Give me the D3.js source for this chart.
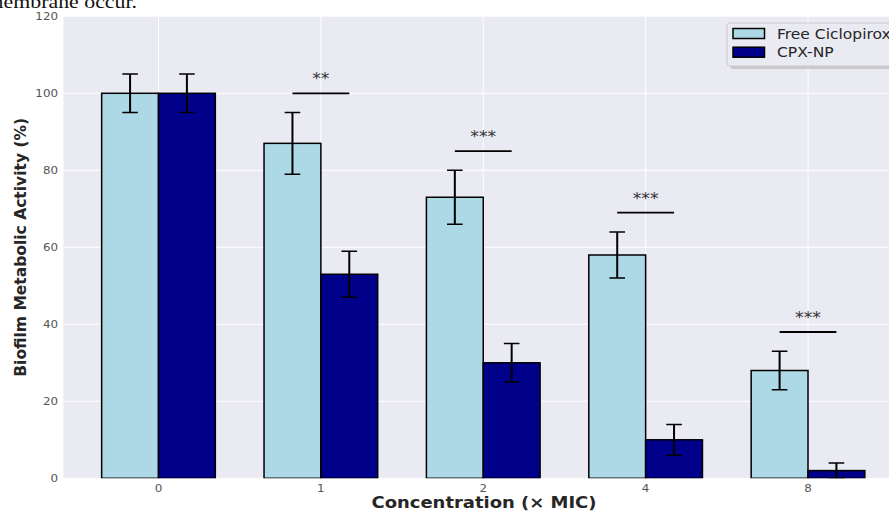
<!DOCTYPE html>
<html><head><meta charset="utf-8">
<script src="https://cdn.jsdelivr.net/npm/d3@7"></script>
<style>body{margin:0;background:#fff;overflow:hidden}svg{display:block}</style>
</head><body>
<svg id="c" width="889" height="511"></svg>
<script>
const categories = ["0","1","2","4","8"];
const freeVals = [100, 87, 73, 58, 28];
const freeErr  = [5, 8, 7, 6, 5];
const npVals   = [100, 53, 30, 10, 2];
const npErr    = [5, 6, 5, 4, 2];
const sigLabels = [null, "**", "***", "***", "***"];
const yTicks = [0, 20, 40, 60, 80, 100, 120];
const seriesNames = ["Free Ciclopirox", "CPX-NP"];
const colors = ["#ADD8E6", "#00008B"];

(function(){
const svg = d3.select("#c");
const pL = 63.5, pR = 903, pT = 16.3, pB = 478.3;
const x = d3.scaleLinear().domain([-0.585, 4.585]).range([pL, pR]);
const y = d3.scaleLinear().domain([0, 120]).range([pB, pT]);
const bw = 0.35;
const SX = 1.15;
function txt(parent, tx, ty, s, opts) {
  const t = parent.append("text")
    .attr("transform", `translate(${tx},${ty}) scale(${opts.sx || SX},1)`)
    .attr("text-anchor", opts.anchor || "start")
    .attr("font-family", opts.family || "DejaVu Sans")
    .attr("font-size", opts.size || 12)
    .attr("fill", opts.fill || "#262626").text(s);
  if (opts.weight) t.attr("font-weight", opts.weight);
  return t;
}

// stray text from the page above the figure
txt(svg, 137, 8, "membrane occur.", {anchor: "end", family: "Liberation Serif", size: 19, fill: "#111"});

svg.append("clipPath").attr("id","pc").append("rect")
  .attr("x", pL).attr("y", pT).attr("width", pR-pL).attr("height", pB-pT);

svg.append("rect").attr("x", pL).attr("y", pT).attr("width", pR-pL).attr("height", pB-pT)
  .attr("fill", "#EAEAF2");

const g = svg.append("g").attr("clip-path", "url(#pc)");
g.selectAll(".hg").data(yTicks).enter().append("line")
  .attr("x1", pL).attr("x2", pR).attr("y1", d=>y(d)).attr("y2", d=>y(d))
  .attr("stroke", "#fff").attr("stroke-width", 1);
g.selectAll(".vg").data(categories).enter().append("line")
  .attr("x1", (d,i)=>x(i)).attr("x2", (d,i)=>x(i)).attr("y1", pT).attr("y2", pB)
  .attr("stroke", "#fff").attr("stroke-width", 1);

const series = [
  {vals: freeVals, err: freeErr, off: -bw/2, color: colors[0]},
  {vals: npVals, err: npErr, off: bw/2, color: colors[1]}
];
series.forEach(s => {
  g.selectAll(null).data(s.vals).enter().append("rect")
    .attr("x", (d,i)=>x(i + s.off - bw/2)).attr("width", x(bw)-x(0))
    .attr("y", d=>y(d)).attr("height", d=>pB - y(d))
    .attr("fill", s.color).attr("stroke", "#000").attr("stroke-width", 1.5);
});
series.forEach(s => {
  s.vals.forEach((v,i) => {
    const cx = x(i + s.off), cap = 7.8;
    const lo = Math.max(0, v - s.err[i]), hi = v + s.err[i];
    g.append("line").attr("x1", cx).attr("x2", cx).attr("y1", y(lo)).attr("y2", y(hi))
      .attr("stroke", "#000").attr("stroke-width", 2);
    [lo, hi].forEach(e => g.append("line").attr("x1", cx-cap).attr("x2", cx+cap)
      .attr("y1", y(e)).attr("y2", y(e)).attr("stroke", "#000").attr("stroke-width", 1.5));
  });
});
sigLabels.forEach((lab, i) => {
  if (!lab) return;
  const h = Math.max(freeVals[i] + freeErr[i], npVals[i] + npErr[i]) + 5;
  g.append("line").attr("x1", x(i - bw/2)).attr("x2", x(i + bw/2)).attr("y1", y(h)).attr("y2", y(h))
    .attr("stroke", "#000").attr("stroke-width", 1.8);
  txt(g, x(i), y(h) - 9, lab, {anchor: "middle", size: 15, fill: "#333"});
});

yTicks.forEach(d => txt(svg, 58, y(d) + 4, d, {anchor: "end", size: 11, fill: "#555", sx: 1.08}));
categories.forEach((d, i) => txt(svg, x(i), 492, d, {anchor: "middle", size: 11, fill: "#555", sx: 1.08}));

txt(svg, 484, 508, "Concentration (× MIC)", {anchor: "middle", size: 15.5, weight: "bold", sx: 1.16});
svg.append("text").attr("transform", `translate(25.5,${(pT+pB)/2}) rotate(-90)`)
  .attr("text-anchor", "middle")
  .attr("font-family", "DejaVu Sans").attr("font-weight", "bold").attr("font-size", 15.5)
  .attr("fill", "#262626").text("Biofilm Metabolic Activity (%)");

const lg = svg.append("g");
lg.append("rect").attr("x", 730).attr("y", 26).attr("width", 200).attr("height", 43)
  .attr("rx", 3).attr("fill", "#b0b0b0").attr("opacity", 0.6);
lg.append("rect").attr("x", 727).attr("y", 23).attr("width", 200).attr("height", 43)
  .attr("rx", 3).attr("fill", "#EAEAF2").attr("stroke", "#cccccc").attr("stroke-width", 1);
seriesNames.forEach((n, i) => {
  lg.append("rect").attr("x", 733).attr("y", 28.5 + i*18.7).attr("width", 31.5).attr("height", 10)
    .attr("fill", colors[i]).attr("stroke", "#000").attr("stroke-width", 1.5);
  txt(lg, 777, 38.5 + i*18.7, n, {size: 13.5});
});
})();
</script>
</body></html>
